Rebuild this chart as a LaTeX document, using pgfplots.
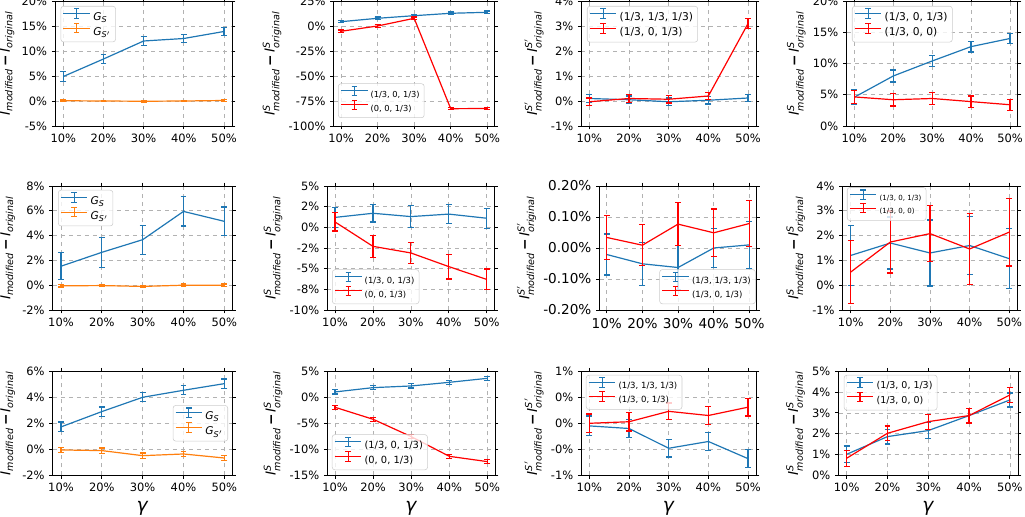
\documentclass[border=0pt]{standalone}
\usepackage{fontspec}
\setmainfont{DejaVu Sans}
\usepackage{amsmath}
\usepackage{pgfplots}
\pgfplotsset{compat=1.18}
\definecolor{mblue}{HTML}{1F77B4}
\definecolor{morange}{HTML}{FF7F0E}
\definecolor{mred}{HTML}{FF0000}
\newcommand{\Ilab}{\textit{I}$_{\text{\itshape modified}}$\,{\bfseries −}\,\textit{I}$_{\text{\itshape original}}$}
\newcommand{\ISlab}{\textit{I}$^{\text{\itshape S}}_{\text{\itshape modified}}$\,{\bfseries −}\,\textit{I}$^{\text{\itshape S}}_{\text{\itshape original}}$}
\newcommand{\ISplab}{\textit{I}$^{\text{\itshape S}'}_{\text{\itshape modified}}$\,{\bfseries −}\,\textit{I}$^{\text{\itshape S}'}_{\text{\itshape original}}$}
\newcommand{\GS}{\textit{G}$_{\text{\itshape S}}$}
\newcommand{\GSp}{\textit{G}$_{\text{\itshape S}'}$}
\newcommand{\fs}[1]{\fontsize{#1}{#1}\selectfont}
\pgfplotsset{
  P/.style n args={4}{at={({#1*0.75pt},{(517-#4)*0.75pt})}, anchor=south west,
     width={(#3-#1)*0.75pt}, height={(#4-#2)*0.75pt}},
  base/.style={scale only axis, xmin=8, xmax=52, xtick={10,20,30,40,50},
     xticklabels={10\%,20\%,30\%,40\%,50\%},
     grid=major, grid style={dashed, black!30, line width=0.5pt},
     tick label style={font=\fs{8.6}}, ylabel style={font=\fs{10.3}}, xlabel style={font=\fs{14}},
     ylabel shift=-1.5pt,
     tick align=outside, major tick length=2.6pt, tick style={black, line width=0.6pt},
     axis line style={line width=0.6pt},
     legend cell align=left,
     legend style={draw=black!20, fill=white, fill opacity=0.8, text opacity=1,
        rounded corners=2pt, inner sep=1.5pt, row sep=-1.5pt},
     legend image code/.code={\draw[##1, line width=0.8pt] (0em,0.3em) -- (2em,0.3em);
        \draw[##1, line width=0.8pt] (1em,-0.05em) -- (1em,0.65em) (0.8em,-0.05em) -- (1.2em,-0.05em) (0.8em,0.65em) -- (1.2em,0.65em);},
     every axis plot/.append style={line width=0.9pt, mark=none},
     error bars/y dir=both, error bars/y explicit,
     error bars/error bar style={line width=0.9pt},
     error bars/error mark options={rotate=90, line width=0.9pt, mark size=2.2pt},
  },
}
\begin{document}
\begin{tikzpicture}
% ---------------- Row 1 ----------------
\begin{axis}[base, P={55.3}{1}{232}{126}, ymin=-5, ymax=20, ytick={-5,0,5,10,15,20},
  yticklabels={-5\%,0\%,5\%,10\%,15\%,20\%}, ylabel={\Ilab},
  legend style={at={(0.03,0.96)}, anchor=north west, font=\fs{8}}]
\addplot[mblue] coordinates {(10,4.9)+-(0,1.0) (20,8.4)+-(0,0.94) (30,12.0)+-(0,0.9) (40,12.5)+-(0,0.87) (50,13.9)+-(0,0.8)};
\addplot[morange] coordinates {(10,0.05)+-(0,0.15) (20,0)+-(0,0.15) (30,-0.05)+-(0,0.15) (40,0)+-(0,0.15) (50,0.1)+-(0,0.15)};
\legend{\GS,\GSp}
\end{axis}
\begin{axis}[base, P={333.7}{1}{494.6}{126}, ymin=-100, ymax=25, ytick={-100,-75,-50,-25,0,25},
  yticklabels={-100\%,-75\%,-50\%,-25\%,0\%,25\%}, ylabel={\ISlab},
  legend style={at={(0.027,0.064)}, anchor=south west, font=\fs{6.2}}]
\addplot[mblue] coordinates {(10,4.3)+-(0,1.2) (20,7.7)+-(0,1.2) (30,10.3)+-(0,1.2) (40,12.7)+-(0,1.2) (50,13.7)+-(0,1.2)};
\addplot[mred] coordinates {(10,-5.3)+-(0,1.2) (20,0)+-(0,1.2) (30,7.7)+-(0,1.2) (40,-82.7)+-(0,1.2) (50,-82.5)+-(0,1.2)};
\legend{(1/3, 0, 1/3),(0, 0, 1/3)}
\end{axis}
\begin{axis}[base, P={581.4}{1}{756}{126}, ymin=-1, ymax=4, ytick={-1,0,1,2,3,4},
  yticklabels={-1\%,0\%,1\%,2\%,3\%,4\%}, ylabel={\ISplab},
  legend style={at={(0.032,0.96)}, anchor=north west, font=\fs{8}}]
\addplot[mblue] coordinates {(10,0.1)+-(0,0.15) (20,0.05)+-(0,0.15) (30,-0.03)+-(0,0.15) (40,0.03)+-(0,0.15) (50,0.12)+-(0,0.15)};
\addplot[mred] coordinates {(10,-0.03)+-(0,0.15) (20,0.1)+-(0,0.15) (30,0.07)+-(0,0.15) (40,0.2)+-(0,0.15) (50,3.1)+-(0,0.2)};
\legend{(1/3, 1/3, 1/3),(1/3, 0, 1/3)}
\end{axis}
\begin{axis}[base, P={846.5}{1}{1017.8}{126}, ymin=0, ymax=20, ytick={0,5,10,15,20},
  yticklabels={0\%,5\%,10\%,15\%,20\%}, ylabel={\ISlab},
  legend style={at={(0.032,0.96)}, anchor=north west, font=\fs{8}}]
\addplot[mblue] coordinates {(10,4.6)+-(0,1.15) (20,8.0)+-(0,0.95) (30,10.4)+-(0,0.9) (40,12.7)+-(0,0.85) (50,14.0)+-(0,0.85)};
\addplot[mred] coordinates {(10,4.65)+-(0,1.0) (20,4.2)+-(0,1.0) (30,4.4)+-(0,0.9) (40,3.9)+-(0,0.9) (50,3.4)+-(0,0.9)};
\legend{(1/3, 0, 1/3),(1/3, 0, 0)}
\end{axis}
% ---------------- Row 2 ----------------
\begin{axis}[base, P={52.8}{186}{232.5}{310}, ymin=-2, ymax=8, ytick={-2,0,2,4,6,8},
  yticklabels={-2\%,0\%,2\%,4\%,6\%,8\%}, ylabel={\Ilab},
  legend style={at={(0.029,0.968)}, anchor=north west, font=\fs{8}}]
\addplot[mblue] coordinates {(10,1.53)+-(0,1.1) (20,2.65)+-(0,1.2) (30,3.67)+-(0,1.17) (40,5.95)+-(0,1.18) (50,5.15)+-(0,1.15)};
\addplot[morange] coordinates {(10,-0.05)+-(0,0.1) (20,-0.03)+-(0,0.1) (30,-0.1)+-(0,0.1) (40,0)+-(0,0.1) (50,0)+-(0,0.1)};
\legend{\GS,\GSp}
\end{axis}
\begin{axis}[base, P={327.4}{186}{494.3}{310}, ymin=-10, ymax=5, ytick={-10,-7.5,-5,-2.5,0,2.5,5},
  yticklabels={-10\%,-8\%,-5\%,-2\%,0\%,2\%,5\%}, ylabel={\ISlab},
  legend style={at={(0.028,0.048)}, anchor=south west, font=\fs{6.3}}]
\addplot[mblue] coordinates {(10,1.2)+-(0,1.2) (20,1.7)+-(0,1.05) (30,1.3)+-(0,1.3) (40,1.6)+-(0,1.15) (50,1.1)+-(0,1.2)};
\addplot[mred] coordinates {(10,0.65)+-(0,1.1) (20,-2.3)+-(0,1.35) (30,-3.1)+-(0,1.25) (40,-4.75)+-(0,1.5) (50,-6.3)+-(0,1.25)};
\legend{(1/3, 0, 1/3),(0, 0, 1/3)}
\end{axis}
\begin{axis}[base, P={599.6}{186}{756.5}{310}, ymin=-0.2, ymax=0.2, ytick={-0.2,-0.1,0,0.1,0.2},
  yticklabels={-0.20\%,-0.10\%,0.00\%,0.10\%,0.20\%}, ylabel={\ISplab},
  tick label style={font=\fs{10.2}},
  legend style={at={(0.995,0.048)}, anchor=south east, font=\fs{6.4}}]
\addplot[mblue] coordinates {(10,-0.021)+-(0,0.066) (20,-0.051)+-(0,0.069) (30,-0.063)+-(0,0.07) (40,0)+-(0,0.064) (50,0.01)+-(0,0.075)};
\addplot[mred] coordinates {(10,0.034)+-(0,0.07) (20,0.009)+-(0,0.066) (30,0.077)+-(0,0.069) (40,0.049)+-(0,0.077) (50,0.079)+-(0,0.073)};
\legend{(1/3, 1/3, 1/3),(1/3, 0, 1/3)}
\end{axis}
\begin{axis}[base, P={842.8}{186}{1017.2}{310}, ymin=-1, ymax=4, ytick={-1,0,1,2,3,4},
  yticklabels={-1\%,0\%,1\%,2\%,3\%,4\%}, ylabel={\ISlab},
  legend style={at={(0.024,0.99)}, anchor=north west, font=\fs{5.3}}]
\addplot[mblue] coordinates {(10,1.2)+-(0,1.22) (20,1.7)+-(0,1.05) (30,1.3)+-(0,1.33) (40,1.6)+-(0,1.16) (50,1.07)+-(0,1.2)};
\addplot[mred] coordinates {(10,0.53)+-(0,1.28) (20,1.74)+-(0,1.25) (30,2.08)+-(0,1.13) (40,1.46)+-(0,1.42) (50,2.14)+-(0,1.37)};
\legend{(1/3, 0, 1/3),(1/3, 0, 0)}
\end{axis}
% ---------------- Row 3 ----------------
\begin{axis}[base, P={52.8}{371.3}{232.5}{475.3}, ymin=-2, ymax=6, ytick={-2,0,2,4,6},
  yticklabels={-2\%,0\%,2\%,4\%,6\%}, ylabel={\Ilab}, xlabel={\textit{γ}},
  legend style={at={(0.975,0.5)}, anchor=east, font=\fs{8}}]
\addplot[mblue] coordinates {(10,1.72)+-(0,0.38) (20,2.9)+-(0,0.35) (30,4.0)+-(0,0.35) (40,4.54)+-(0,0.35) (50,5.05)+-(0,0.35)};
\addplot[morange] coordinates {(10,-0.05)+-(0,0.2) (20,-0.1)+-(0,0.2) (30,-0.49)+-(0,0.2) (40,-0.36)+-(0,0.2) (50,-0.67)+-(0,0.2)};
\legend{\GS,\GSp}
\end{axis}
\begin{axis}[base, P={327.4}{371.3}{495}{475.3}, ymin=-15, ymax=5, ytick={-15,-10,-5,0,5},
  yticklabels={-15\%,-10\%,-5\%,0\%,5\%}, ylabel={\ISlab}, xlabel={\textit{γ}},
  legend style={at={(0.027,0.05)}, anchor=south west, font=\fs{7.4}}]
\addplot[mblue] coordinates {(10,1.03)+-(0,0.4) (20,1.86)+-(0,0.4) (30,2.18)+-(0,0.4) (40,2.88)+-(0,0.4) (50,3.65)+-(0,0.4)};
\addplot[mred] coordinates {(10,-1.92)+-(0,0.4) (20,-4.23)+-(0,0.4) (30,-7.56)+-(0,0.4) (40,-11.35)+-(0,0.4) (50,-12.37)+-(0,0.4)};
\legend{(1/3, 0, 1/3),(0, 0, 1/3)}
\end{axis}
\begin{axis}[base, P={581.4}{371.3}{756}{475.3}, ymin=-1, ymax=1, ytick={-1,-0.5,0,0.5,1},
  yticklabels={-1\%,-0\%,0\%,0\%,1\%}, ylabel={\ISplab}, xlabel={\textit{γ}},
  legend style={at={(0.026,0.965)}, anchor=north west, font=\fs{6.4}}]
\addplot[mblue] coordinates {(10,-0.05)+-(0,0.19) (20,-0.1)+-(0,0.18) (30,-0.48)+-(0,0.17) (40,-0.35)+-(0,0.17) (50,-0.68)+-(0,0.17)};
\addplot[mred] coordinates {(10,0)+-(0,0.18) (20,0.03)+-(0,0.18) (30,0.23)+-(0,0.16) (40,0.15)+-(0,0.18) (50,0.31)+-(0,0.17)};
\legend{(1/3, 1/3, 1/3),(1/3, 0, 1/3)}
\end{axis}
\begin{axis}[base, P={838.5}{371.3}{1018}{475.3}, ymin=0, ymax=5, ytick={0,1,2,3,4,5},
  yticklabels={0\%,1\%,2\%,3\%,4\%,5\%}, ylabel={\ISlab}, xlabel={\textit{γ}},
  legend style={at={(0.03,0.965)}, anchor=north west, font=\fs{7.1}}]
\addplot[mblue] coordinates {(10,1.01)+-(0,0.4) (20,1.86)+-(0,0.36) (30,2.15)+-(0,0.37) (40,2.87)+-(0,0.36) (50,3.62)+-(0,0.34)};
\addplot[mred] coordinates {(10,0.82)+-(0,0.38) (20,2.02)+-(0,0.35) (30,2.58)+-(0,0.36) (40,2.87)+-(0,0.36) (50,3.86)+-(0,0.36)};
\legend{(1/3, 0, 1/3),(1/3, 0, 0)}
\end{axis}
\pgfresetboundingbox
\path[use as bounding box] (0,0) rectangle (768.75pt,387.75pt);
\end{tikzpicture}
\end{document}
